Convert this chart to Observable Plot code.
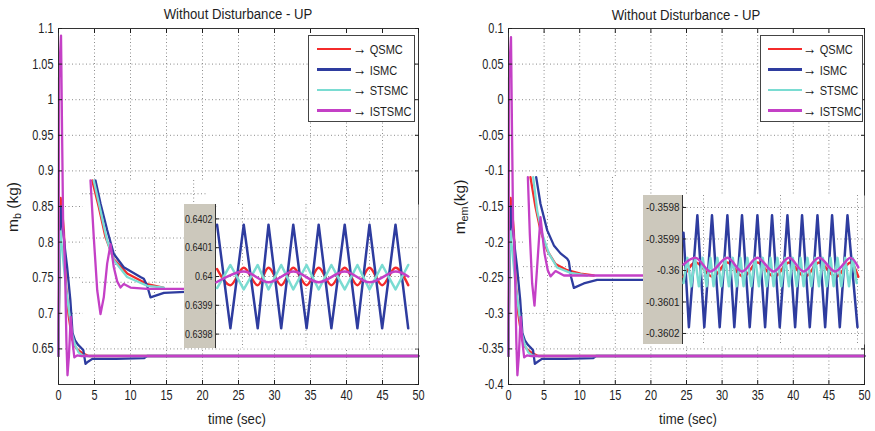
<!DOCTYPE html>
<html><head><meta charset="utf-8">
<script src="https://cdn.jsdelivr.net/npm/d3@7"></script>
<script src="https://cdn.jsdelivr.net/npm/@observablehq/plot@0.6"></script>
<style>
html,body{margin:0;padding:0;background:#fff;}
#fig{position:relative;width:875px;height:431px;overflow:hidden;background:#fff;color:#1e1e1e;
  font-family:"Liberation Sans",Arial,sans-serif;}
.t{position:absolute;white-space:nowrap;transform:translate(-50%,-50%) scaleX(0.85);font-size:15.5px;line-height:1;}
.yl{position:absolute;white-space:nowrap;transform:translate(-50%,-50%) rotate(-90deg);font-size:15.5px;line-height:1;}
.yl sub{font-size:70%;vertical-align:-0.3em;}
.lg{position:absolute;box-sizing:border-box;border:1px solid #444;background:#fff;}
.lg .ln{position:absolute;height:2.5px;width:34px;}
.lg .tx{position:absolute;font-size:13px;line-height:1;transform:translateY(-50%) scaleX(0.85);transform-origin:0 50%;white-space:nowrap;}
.lg .ar{font-size:16px;}
.gb{position:absolute;box-sizing:border-box;background:#ccc8bc;border-right:1px solid #333;}
</style></head><body><div id="fig"></div>
<script>
const FONT = '"Liberation Sans",Arial,sans-serif';
const seriesNames = ["QSMC", "ISMC", "STSMC", "ISTSMC"];
const seriesColors = ["#f42b2b", "#2e3c9f", "#7adcd2", "#c440c6"];
const titleText = "Without Disturbance - UP";
const xLabelText = "time (sec)";

const xTicks = [0, 5, 10, 15, 20, 25, 30, 35, 40, 45, 50];
const leftYTicks = [0.65, 0.7, 0.75, 0.8, 0.85, 0.9, 0.95, 1, 1.05, 1.1];
const leftYGrid = [0.6, 0.65, 0.7, 0.75, 0.8, 0.85, 0.9, 0.95, 1, 1.05, 1.1];
const rightYTicks = [-0.4, -0.35, -0.3, -0.25, -0.2, -0.15, -0.1, -0.05, 0, 0.05, 0.1];
const leftZoomTicks = [0.6398, 0.6399, 0.64, 0.6401, 0.6402];
const rightZoomTicks = [-0.3602, -0.3601, -0.36, -0.3599, -0.3598];
const zoomXGrid = [46, 47, 48];

// ---- Left panel: main curves (t, m_b)
const LM_QSMC = [[0,0.64],[0.15,0.80],[0.3,0.862],[0.5,0.845],[0.75,0.815],[1.0,0.745],[1.4,0.697],[1.9,0.663],[2.4,0.652],[2.9,0.647],[3.5,0.643],[4.2,0.64],[50,0.64]];
const LM_ISMC = [[0,0.64],[0.15,0.78],[0.35,0.85],[0.6,0.82],[0.9,0.79],[1.2,0.765],[1.65,0.718],[1.95,0.672],[2.3,0.662],[2.7,0.656],[3.1,0.652],[3.45,0.648],[3.75,0.629],[4.1,0.632],[4.7,0.636],[8,0.636],[11.9,0.637],[12.3,0.64],[50,0.64]];
const LM_STSMC = [[0,0.64],[0.1,0.76],[0.25,0.815],[0.5,0.79],[0.8,0.76],[1.1,0.73],[1.5,0.70],[1.9,0.67],[2.3,0.655],[2.8,0.645],[3.3,0.641],[4,0.64],[50,0.64]];
const LM_ISTSMC = [[0,0.64],[0.08,1.03],[0.2,1.06],[0.35,1.09],[0.5,0.95],[0.65,0.82],[0.8,0.80],[0.95,0.74],[1.1,0.66],[1.25,0.613],[1.45,0.64],[1.7,0.695],[1.95,0.66],[2.2,0.638],[2.6,0.641],[3.2,0.64],[50,0.64]];

// ---- Left panel: transient inset
const LI_QSMC = [[2.04,0.765],[2.88,0.735],[3.74,0.701],[4.8,0.676],[6.5,0.66],[9.06,0.648],[11.1,0.644]];
const LI_ISMC = [[2.46,0.765],[3.1,0.739],[3.95,0.709],[4.8,0.682],[6.07,0.667],[8.2,0.656],[8.63,0.654],[9.06,0.646],[9.48,0.633],[11.2,0.638],[14.6,0.6395],[16.6,0.6395]];
const LI_STSMC = [[2.24,0.765],[3.1,0.731],[3.95,0.697],[4.8,0.675],[6.5,0.656],[9.06,0.646],[11.2,0.644]];
const LI_ISTSMC = [[1.82,0.765],[2.24,0.701],[2.68,0.641],[3.1,0.614],[3.52,0.633],[3.95,0.671],[4.38,0.693],[4.8,0.667],[5.23,0.651],[5.65,0.644],[6.07,0.648],[6.93,0.644],[9.06,0.6426],[16.6,0.6426]];

// ---- Left panel: steady-state zoom inset
const LZ_ISMC = [[45.60,0.64018],[45.81,0.63982],[46.02,0.64018],[46.24,0.63982],[46.41,0.64018],[46.61,0.63982],[46.80,0.64018],[47.01,0.63982],[47.20,0.64018],[47.40,0.63982],[47.61,0.64018],[47.81,0.63982],[48.00,0.64018],[48.20,0.63982],[48.41,0.64018],[48.61,0.63982]];
const LZ_QSMC = [[45.60,0.640026],[45.81,0.63997],[46.02,0.64003],[46.24,0.63997],[46.41,0.64003],[46.61,0.63997],[46.80,0.64003],[47.01,0.63997],[47.20,0.64003],[47.40,0.63997],[47.61,0.64003],[47.81,0.63997],[48.00,0.64003],[48.20,0.63997],[48.41,0.64003],[48.61,0.63997]];
const LZ_STSMC = [[45.60,0.63996],[45.81,0.64004],[46.02,0.639955],[46.24,0.64004],[46.41,0.639955],[46.61,0.64004],[46.80,0.639955],[47.01,0.64004],[47.20,0.639955],[47.40,0.64004],[47.61,0.639955],[47.81,0.64004],[48.00,0.639955],[48.20,0.64004],[48.41,0.639955],[48.61,0.64004]];
const LZ_ISTSMC = [[45.59,0.63998],[46.02,0.640017],[46.41,0.63998],[46.80,0.640017],[47.20,0.63998],[47.61,0.640017],[48.00,0.63998],[48.41,0.640017],[48.61,0.64]];

// ---- Right panel: main curves (t, m_em)
const RM_QSMC = [[0,-0.36],[0.15,-0.2],[0.3,-0.138],[0.5,-0.155],[0.75,-0.185],[1.0,-0.255],[1.4,-0.303],[1.9,-0.337],[2.4,-0.348],[2.9,-0.353],[3.5,-0.357],[4.2,-0.36],[50,-0.36]];
const RM_ISMC = [[0,-0.36],[0.15,-0.22],[0.35,-0.15],[0.6,-0.18],[0.9,-0.21],[1.2,-0.235],[1.65,-0.282],[1.95,-0.328],[2.3,-0.338],[2.7,-0.344],[3.1,-0.348],[3.45,-0.352],[3.7,-0.371],[4.1,-0.368],[4.7,-0.364],[8,-0.364],[11.9,-0.363],[12.3,-0.36],[50,-0.36]];
const RM_STSMC = [[0,-0.36],[0.1,-0.24],[0.25,-0.185],[0.5,-0.21],[0.8,-0.24],[1.1,-0.27],[1.5,-0.30],[1.9,-0.33],[2.3,-0.345],[2.8,-0.355],[3.3,-0.359],[4,-0.36],[50,-0.36]];
const RM_ISTSMC = [[0,-0.36],[0.08,0.03],[0.2,0.06],[0.35,0.088],[0.5,-0.05],[0.65,-0.18],[0.8,-0.2],[0.95,-0.26],[1.1,-0.34],[1.25,-0.387],[1.45,-0.36],[1.7,-0.305],[1.95,-0.34],[2.2,-0.362],[2.6,-0.359],[3.2,-0.36],[50,-0.36]];

// ---- Right panel: transient inset
const RI_QSMC = [[3.69,-0.249],[4.08,-0.283],[4.46,-0.309],[4.98,-0.332],[5.62,-0.347],[6.51,-0.354],[7.54,-0.358],[8.56,-0.36]];
const RI_ISMC = [[4.13,-0.249],[4.46,-0.279],[4.98,-0.309],[5.49,-0.326],[6.0,-0.335],[6.51,-0.341],[6.64,-0.344],[6.82,-0.362],[7.03,-0.374],[7.79,-0.369],[8.82,-0.365],[12.38,-0.365]];
const RI_STSMC = [[3.9,-0.249],[4.21,-0.287],[4.59,-0.313],[5.1,-0.335],[5.74,-0.351],[6.77,-0.357],[8.05,-0.36]];
const RI_ISTSMC = [[3.49,-0.249],[3.64,-0.313],[3.82,-0.369],[4.0,-0.394],[4.2,-0.351],[4.46,-0.294],[4.77,-0.335],[5.02,-0.354],[5.23,-0.361],[5.62,-0.355],[6.26,-0.36],[12.38,-0.36]];

// ---- Right panel: steady-state zoom inset
const RZ_ISMC = [[45.74,-0.35988],[45.81,-0.36018],[45.92,-0.359825],[46.01,-0.36018],[46.11,-0.359825],[46.21,-0.36018],[46.31,-0.359825],[46.40,-0.36018],[46.50,-0.359825],[46.60,-0.36018],[46.70,-0.359825],[46.80,-0.36018],[46.89,-0.359825],[46.99,-0.36018],[47.09,-0.359825],[47.19,-0.36018],[47.28,-0.359825],[47.38,-0.36018],[47.48,-0.359825],[47.58,-0.36018],[47.67,-0.359825],[47.77,-0.36018],[47.87,-0.359825],[48.00,-0.36018]];
const RZ_QSMC = [[45.74,-0.36002],[45.90,-0.359975],[46.12,-0.36002],[46.31,-0.359975],[46.52,-0.36002],[46.70,-0.359975],[46.92,-0.36002],[47.11,-0.359975],[47.32,-0.36002],[47.50,-0.359975],[47.72,-0.36002],[47.91,-0.359975],[48.01,-0.36002]];
const RZ_STSMC = [[45.74,-0.36004],[45.79,-0.35996],[45.84,-0.36005],[45.89,-0.35996],[45.94,-0.36005],[45.99,-0.35996],[46.04,-0.36005],[46.09,-0.35996],[46.13,-0.36005],[46.18,-0.35996],[46.23,-0.36005],[46.28,-0.35996],[46.33,-0.36005],[46.38,-0.35996],[46.43,-0.36005],[46.48,-0.35996],[46.52,-0.36005],[46.57,-0.35996],[46.62,-0.36005],[46.67,-0.35996],[46.72,-0.36005],[46.77,-0.35996],[46.82,-0.36005],[46.87,-0.35996],[46.91,-0.36005],[46.96,-0.35996],[47.01,-0.36005],[47.06,-0.35996],[47.11,-0.36005],[47.16,-0.35996],[47.21,-0.36005],[47.26,-0.35996],[47.30,-0.36005],[47.35,-0.35996],[47.40,-0.36005],[47.45,-0.35996],[47.50,-0.36005],[47.55,-0.35996],[47.60,-0.36005],[47.65,-0.35996],[47.69,-0.36005],[47.74,-0.35996],[47.79,-0.36005],[47.84,-0.35996],[47.89,-0.36005],[47.94,-0.35996],[47.99,-0.36004]];
const RZ_ISTSMC = [[45.74,-0.359981],[45.90,-0.35996],[46.09,-0.360003],[46.31,-0.35996],[46.50,-0.360003],[46.70,-0.35996],[46.91,-0.360003],[47.11,-0.35996],[47.30,-0.360003],[47.50,-0.35996],[47.71,-0.360003],[47.91,-0.35996],[48.01,-0.35999]];

const fig = document.getElementById("fig");
const gridStyle = {stroke: "#8c8c8c", strokeOpacity: 1, strokeDasharray: "1,2.5", strokeWidth: 1};
const fmt = d => String(d);
const blank = () => "";

function lines(sets, w, curves) {
  return sets.map((d, i) => Plot.line(d, {x: p => p[0], y: p => p[1], stroke: seriesColors[i], strokeWidth: w, curve: curves ? curves[i] : "linear"}));
}
// horizontally condense SVG texts (narrow sans look), keeping each text's anchor point
function squeeze(svg, k) {
  svg.querySelectorAll("text").forEach(t => {
    let tr = t.getAttribute("transform") || "";
    const xa = t.getAttribute("x");
    if (xa !== null && !isNaN(+xa)) { tr += ` translate(${xa},0)`; t.removeAttribute("x"); }
    t.setAttribute("transform", tr + ` scale(${k},1)`);
  });
  return svg;
}
function place(node, left, top) {
  node.style.position = "absolute"; node.style.left = left + "px"; node.style.top = top + "px";
  node.style.overflow = "visible";
  fig.appendChild(node);
}
function html(str) { const d = document.createElement("div"); d.innerHTML = str; return d.firstElementChild; }

function mainPlot(o) {
  return squeeze(Plot.plot({
    width: o.width, height: 431, marginLeft: o.ml, marginRight: o.mr, marginTop: 28, marginBottom: 47,
    style: {fontFamily: FONT, fontSize: "14px", color: "#1e1e1e", background: "transparent"},
    x: {domain: [0, 50], label: null}, y: {domain: o.yDomain, label: null},
    marks: [
      Plot.gridX(xTicks, gridStyle),
      Plot.gridY(o.yGrid, gridStyle),
      ...lines(o.data, 2.3),
      Plot.frame({stroke: "#333"}),
      Plot.axisX(xTicks, {anchor: "bottom", tickSize: -4, tickPadding: 10, tickFormat: fmt, label: null}),
      Plot.axisX(xTicks, {anchor: "top", tickSize: -4, tickFormat: blank, label: null}),
      Plot.axisY(o.yTicks, {anchor: "left", tickSize: -4, tickPadding: 9, tickFormat: fmt, label: null}),
      Plot.axisY(o.yGrid, {anchor: "right", tickSize: -4, tickFormat: blank, label: null})
    ]
  }), 0.78);
}
function transientInset(o) {
  return Plot.plot({
    width: o.width, height: o.height, margin: 0,
    style: {background: "transparent"},
    x: {domain: o.xDomain, axis: null}, y: {domain: o.yDomain, axis: null},
    marks: [
      Plot.frame({fill: "white"}),
      Plot.gridX(o.xGrid, gridStyle),
      Plot.gridY(o.yGrid, gridStyle),
      ...lines(o.data, 2.3)
    ]
  });
}
function zoomInset(o) {
  return squeeze(Plot.plot({
    width: o.width, height: o.height, marginLeft: o.ml, marginRight: 0, marginTop: 0, marginBottom: 0,
    style: {fontFamily: FONT, fontSize: "11.5px", color: "#222", background: "transparent"},
    x: {domain: o.xDomain, axis: null}, y: {domain: o.yDomain, label: null},
    marks: [
      Plot.frame({fill: "white"}),
      Plot.gridX(zoomXGrid, gridStyle),
      Plot.gridY(o.yTicks, gridStyle),
      ...lines(o.data, 2.5, ["monotone-x", "linear", "linear", "catmull-rom"]),
      Plot.axisY(o.yTicks, {anchor: "left", tickSize: -3, tickPadding: 7, tickFormat: fmt, label: null})
    ]
  }), o.k);
}
function legend(left, top, width, lineLeft, textLeft) {
  const rows = [13, 33.5, 54, 74.5];
  let s = `<div class="lg" style="left:${left}px;top:${top}px;width:${width}px;height:87px">`;
  seriesNames.forEach((n, i) => {
    s += `<div class="ln" style="left:${lineLeft}px;top:${rows[i] - 1.25}px;background:${seriesColors[i]}"></div>`;
    s += `<div class="tx" style="left:${textLeft}px;top:${rows[i]}px"><span class="ar">\u2192</span> ${n}</div>`;
  });
  s += "</div>";
  fig.appendChild(html(s));
}
function text(cls, cx, cy, content) {
  fig.appendChild(html(`<div class="${cls}" style="left:${cx}px;top:${cy}px">${content}</div>`));
}

// Left panel
place(mainPlot({width: 437, ml: 58, mr: 19, yDomain: [0.6, 1.1], yGrid: leftYGrid, yTicks: leftYTicks,
  data: [LM_QSMC, LM_ISMC, LM_STSMC, LM_ISTSMC]}), 0, 0);
place(transientInset({width: 124, height: 136, xDomain: [0.8, 16.64], yDomain: [0.6113, 0.765],
  xGrid: [5, 10, 15], yGrid: [0.65, 0.7, 0.75], data: [LI_QSMC, LI_ISMC, LI_STSMC, LI_ISTSMC]}), 82, 180);
fig.appendChild(html(`<div class="gb" style="left:184px;top:204px;width:32px;height:144px"></div>`));
place(zoomInset({width: 234, height: 144, ml: 32, k: 0.78, xDomain: [45.591, 48.772], yDomain: [0.63975, 0.64025],
  yTicks: leftZoomTicks, data: [LZ_QSMC, LZ_ISMC, LZ_STSMC, LZ_ISTSMC]}), 184, 204);
legend(308, 35, 107, 8, 44);
text("t", 238, 14, titleText);
text("t", 237, 419, xLabelText);
text("yl", 14, 207, "m<sub>b</sub> (kg)");

// Right panel
place(mainPlot({width: 438, ml: 71, mr: 11, yDomain: [-0.4, 0.1], yGrid: rightYTicks, yTicks: rightYTicks,
  data: [RM_QSMC, RM_ISMC, RM_STSMC, RM_ISTSMC]}), 437, 0);
place(transientInset({width: 120, height: 135, xDomain: [3.154, 12.385], yDomain: [-0.4018, -0.2493],
  xGrid: [5, 10], yGrid: [-0.35], data: [RI_QSMC, RI_ISMC, RI_STSMC, RI_ISTSMC]}), 523, 177);
fig.appendChild(html(`<div class="gb" style="left:643px;top:195px;width:40px;height:149px"></div>`));
place(zoomInset({width: 221, height: 149, ml: 40, k: 0.86, xDomain: [45.74, 48.091], yDomain: [-0.360235, -0.359762],
  yTicks: rightZoomTicks, data: [RZ_QSMC, RZ_ISMC, RZ_STSMC, RZ_ISTSMC]}), 643, 195);
legend(760, 35, 103, 7, 42);
text("t", 686, 15, titleText);
text("t", 688, 419, xLabelText);
text("yl", 461, 207, "m<sub>em</sub>(kg)");
</script></body></html>
